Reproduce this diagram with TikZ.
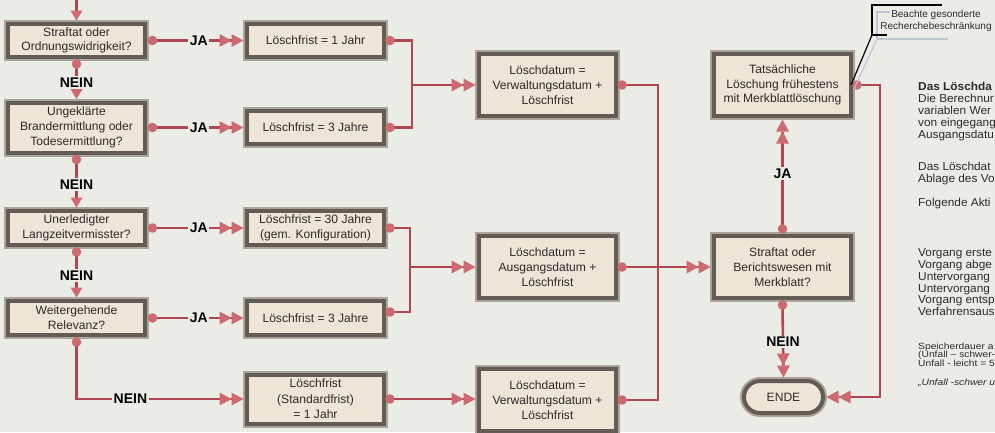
\documentclass[tikz,border=0pt]{standalone}
\usepackage{fontspec}
\setmainfont{Liberation Sans}
\newfontfamily\sidefont[FakeStretch=1.03]{Liberation Sans}
\newfontfamily\smallfont[FakeStretch=1.14]{Liberation Sans}
\usetikzlibrary{arrows.meta,calc}
\definecolor{bgc}{RGB}{236,236,231}
\definecolor{boxfill}{RGB}{237,229,216}
\definecolor{framedk}{RGB}{98,92,85}
\definecolor{framelt}{RGB}{170,164,154}
\definecolor{connc}{RGB}{176,70,82}
\definecolor{tipc}{RGB}{204,106,112}
\definecolor{txtc}{RGB}{45,42,40}
\definecolor{callg}{RGB}{188,198,208}
\tikzset{
  box/.style={rectangle, fill=boxfill, draw=framedk, line width=4pt,
    preaction={draw=framelt, line width=8pt},
    align=center, text=txtc, font=\fontsize{12.1}{14.7}\selectfont,
    inner sep=0pt, minimum width=137pt},
  pill/.style={box, rounded corners=16pt, minimum width=79pt, minimum height=32pt},
  conn/.style={draw=connc, line width=2.6pt},
  dbl/.style={-{Triangle[length=12pt,width=13pt,sep=0pt,line width=0pt,fill=tipc,color=tipc]Triangle[length=12pt,width=13pt,sep=0pt,line width=0pt,fill=tipc,color=tipc]}, shorten >=1.5pt},
  sgl/.style={-{Triangle[length=10pt,width=12pt,line width=0pt,fill=tipc,color=tipc]}, shorten >=1.5pt},
  lab/.style={fill=bgc, inner sep=1.5pt, text=black, font=\bfseries\fontsize{14}{14}\selectfont},
  dotc/.style={fill=tipc},
  sidetxt/.style={anchor=base west, inner sep=0pt, text=txtc, font=\sidefont\fontsize{11.5}{11.5}\selectfont},
  smalltxt/.style={anchor=base west, inner sep=0pt, text=txtc, font=\smallfont\fontsize{9}{9}\selectfont}
}
\begin{document}
\begin{tikzpicture}[x=1pt,y=-1pt]
\useasboundingbox (0,0) rectangle (995,432);
\clip (0,0) rectangle (995,432);
\fill[bgc] (0,0) rectangle (995,432);

% left column
\node[box, minimum height=33pt] (B1) at (76.5,40.5) {Straftat oder\\Ordnungswidrigkeit?};
\node[box, minimum height=50pt] (B2) at (76.5,127.5) {Ungeklärte\\Brandermittlung oder\\Todesermittlung?};
\node[box, minimum height=34pt] (B3) at (76.5,228) {Unerledigter\\Langzeitvermisster?};
\node[box, minimum height=34pt] (B4) at (76.5,318) {Weitergehende\\Relevanz?};
% middle column
\node[box, minimum height=33pt] (L1) at (315.5,40.5) {Löschfrist = 1 Jahr};
\node[box, minimum height=33pt] (L2) at (315.5,127.5) {Löschfrist = 3 Jahre};
\node[box, minimum height=34pt] (L3) at (315.5,228) {Löschfrist = 30 Jahre\\(gem. Konfiguration)};
\node[box, minimum height=34pt] (L4) at (315.5,318) {Löschfrist = 3 Jahre};
\node[box, minimum height=49pt, font=\fontsize{12.1}{15.5}\selectfont] (L5) at (315.5,399) {Löschfrist\\(Standardfrist)\\= 1 Jahr};
% Loeschdatum column
\node[box, minimum height=62pt] (D1) at (547.5,85) {Löschdatum =\\Verwaltungsdatum +\\Löschfrist};
\node[box, minimum height=62pt] (D2) at (547.5,267) {Löschdatum =\\Ausgangsdatum +\\Löschfrist};
\node[box, minimum height=62pt] (D3) at (547.5,400) {Löschdatum =\\Verwaltungsdatum +\\Löschfrist};
% right column
\node[box, minimum height=62pt] (T) at (782.5,85) {Tatsächliche\\Löschung frühestens\\mit Merkblattlöschung};
\node[box, minimum height=62pt] (S) at (782.5,267) {Straftat oder\\Berichtswesen mit\\Merkblatt?};
\node[pill] (E) at (783.5,397) {ENDE};

% entry arrow at top
\coordinate (top) at (76.5,0);
\draw[conn, sgl] (top) -- (B1.north);

% JA rows
\draw[conn, dbl] ([xshift=5.5pt]B1.east) -- node[lab]{JA} (L1.west);
\draw[conn, dbl] ([xshift=5.5pt]B2.east) -- node[lab]{JA} (L2.west);
\draw[conn, dbl] ([xshift=5.5pt]B3.east) -- node[lab]{JA} (L3.west);
\draw[conn, dbl] ([xshift=5.5pt]B4.east) -- node[lab]{JA} (L4.west);
\fill[dotc] ([xshift=5.5pt]B1.east) circle (4.8pt);
\fill[dotc] ([xshift=5.5pt]B2.east) circle (4.8pt);
\fill[dotc] ([xshift=5.5pt]B3.east) circle (4.8pt);
\fill[dotc] ([xshift=5.5pt]B4.east) circle (4.8pt);

% NEIN column
\draw[conn, sgl] ([yshift=-5pt]B1.south) -- node[lab]{NEIN} (B2.north);
\draw[conn, sgl] ([yshift=-5pt]B2.south) -- node[lab]{NEIN} (B3.north);
\draw[conn, sgl] ([yshift=-5pt]B3.south) -- node[lab]{NEIN} (B4.north);
\draw[conn, dbl] ([yshift=-5pt]B4.south) |- node[lab, pos=0.66]{NEIN} (L5.west);
\fill[dotc] ([yshift=-5pt]B1.south) circle (4.8pt);
\fill[dotc] ([yshift=-5pt]B2.south) circle (4.8pt);
\fill[dotc] ([yshift=-5pt]B3.south) circle (4.8pt);
\fill[dotc] ([yshift=-5pt]B4.south) circle (4.8pt);

% joins to Loeschdatum
\coordinate (j1) at (412,85);
\coordinate (j2) at (410,267);
\draw[conn] ([xshift=4pt]L1.east) -| (j1);
\draw[conn] ([xshift=4pt]L2.east) -| (j1);
\draw[conn, dbl] (j1) -- (D1.west);
\draw[conn] ([xshift=4pt]L3.east) -| (j2);
\draw[conn] ([xshift=4pt,yshift=6pt]L4.east) -| (j2);
\draw[conn, dbl] (j2) -- (D2.west);
\draw[conn, dbl] ([xshift=4pt]L5.east) -- (L5.east -| D3.west);
\fill[dotc] ([xshift=4pt]L1.east) circle (4.8pt);
\fill[dotc] ([xshift=4pt]L2.east) circle (4.8pt);
\fill[dotc] ([xshift=4pt]L3.east) circle (4.8pt);
\fill[dotc] ([xshift=4pt,yshift=6pt]L4.east) circle (4.8pt);
\fill[dotc] ([xshift=4pt]L5.east) circle (4.8pt);

% Loeschdatum to decision
\coordinate (j3) at (658,267);
\draw[conn] ([xshift=4pt]D1.east) -| (j3);
\draw[conn] ([xshift=4pt]D3.east) -| (j3);
\draw[conn, dbl] ([xshift=4pt]D2.east) -- (S.west);
\fill[dotc] ([xshift=4pt]D1.east) circle (4.8pt);
\fill[dotc] ([xshift=4pt]D2.east) circle (4.8pt);
\fill[dotc] ([xshift=4pt]D3.east) circle (4.8pt);

% decision
\draw[conn, dbl] ([yshift=5pt]S.north) -- node[lab]{JA} (T.south);
\draw[conn, dbl] ([yshift=-5pt]S.south) -- node[lab]{NEIN} (E.north);
\fill[dotc] ([yshift=5pt]S.north) circle (4.8pt);
\fill[dotc] ([yshift=-5pt]S.south) circle (4.8pt);
\coordinate (j4) at (880,85);
\draw[conn, dbl] ([xshift=4pt]T.east) -- (j4) |- (E.east);
\fill[dotc] ([xshift=4pt]T.east) circle (4.8pt);

% callout
\node[align=center, inner sep=0pt, text=txtc, font=\fontsize{10}{12}\selectfont] (cn) at (936,21) {Beachte gesonderte\\Recherchebeschränkung};
\coordinate (cbl) at (872,35);
\coordinate (cgl) at (877,39);
\draw[callg, line width=1.8pt] (890,12) -- (877,12) -- (cgl) -- (948,39);
\draw[callg, line width=1.2pt] (cgl) -- ([xshift=1pt,yshift=-4pt]T.east);
\draw[black, line width=2.4pt] (942,5) -- (872,5) -- (cbl) -- (887,35);
\draw[black, line width=1.2pt] (cbl) -- ([xshift=-2pt]T.east);

% side text
\node[sidetxt, font=\sidefont\bfseries\fontsize{11.5}{11.5}\selectfont] (t1) at (918,90.5) {Das Löschda};
\node[sidetxt] (t2) at (918,102.5) {Die Berechnur};
\node[sidetxt] (t3) at (918,114.5) {variablen Wer};
\node[sidetxt] (t4) at (918,126.5) {von eingegang};
\node[sidetxt] (t5) at (918,138) {Ausgangsdatu};
\node[sidetxt] (t6) at (918,170.5) {Das Löschdat};
\node[sidetxt] (t7) at (918,182) {Ablage des Vo};
\node[sidetxt] (t8) at (918,206.5) {Folgende Akti};
\node[sidetxt] (t9) at (918,256.5) {Vorgang erste};
\node[sidetxt] (t10) at (918,268.5) {Vorgang abge};
\node[sidetxt] (t11) at (918,280.5) {Untervorgang};
\node[sidetxt] (t12) at (918,292) {Untervorgang};
\node[sidetxt] (t13) at (918,303.5) {Vorgang entsp};
\node[sidetxt] (t14) at (918,315.5) {Verfahrensaus};
\node[smalltxt] (t15) at (918,349.5) {Speicherdauer a};
\node[smalltxt] (t16) at (918,357.5) {(Unfall – schwer-};
\node[smalltxt] (t17) at (918,366) {Unfall - leicht = 5};
\node[smalltxt, font=\smallfont\itshape\fontsize{9}{9}\selectfont] (t18) at (918,385) {„Unfall -schwer u};
\end{tikzpicture}
\end{document}
